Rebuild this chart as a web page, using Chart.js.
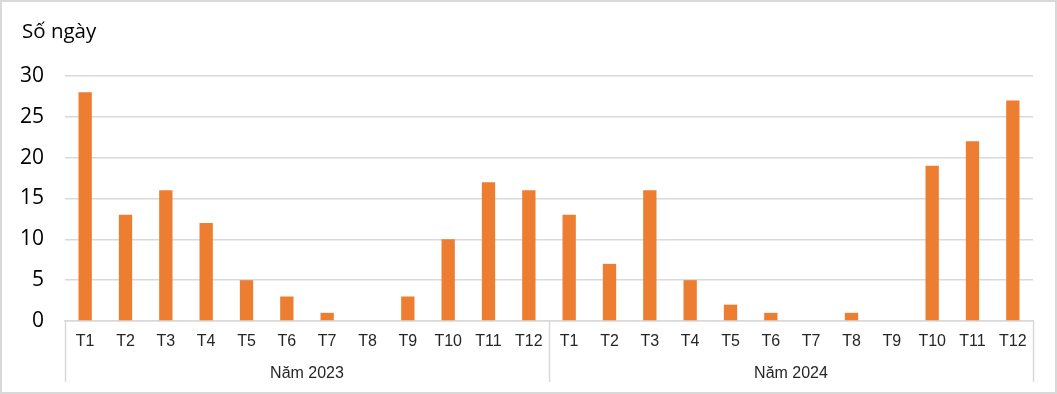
<!DOCTYPE html>
<html>
<head>
<meta charset="utf-8">
<script src="https://cdn.jsdelivr.net/npm/chart.js@4"></script>
<style>
  body { margin: 0; background: #fff; }
  #wrap { position: relative; width: 1057px; height: 394px; }
</style>
</head>
<body>
<div id="wrap"><canvas id="daysChart" width="1057" height="394"></canvas></div>
<script>
// Số ngày theo tháng, 2023 và 2024
const months = ['T1', 'T2', 'T3', 'T4', 'T5', 'T6', 'T7', 'T8', 'T9', 'T10', 'T11', 'T12'];
const years = ['Năm 2023', 'Năm 2024'];
const days2023 = [28, 13, 16, 12, 5, 3, 1, 0, 3, 10, 17, 16];
const days2024 = [13, 7, 16, 5, 2, 1, 0, 1, 0, 19, 22, 27];
const yTicks = [0, 5, 10, 15, 20, 25, 30];

const labels = years.flatMap(() => months);
const values = days2023.concat(days2024);

const gridColor = '#d9d9d9';

// vẽ khung, tiêu đề trục và nhãn nhóm năm
const groupPlugin = {
    id: 'groupPlugin',
    afterDraw(chart) {
        const ctx = chart.ctx;
        const x = chart.scales.x;
        const area = chart.chartArea;
        const step = x.getPixelForValue(1) - x.getPixelForValue(0);

        ctx.save();
        // khung ngoài
        ctx.strokeStyle = gridColor;
        ctx.lineWidth = 2;
        ctx.strokeRect(1, 1, chart.width - 2, chart.height - 2);

        // tiêu đề
        ctx.fillStyle = '#000';
        ctx.font = '20.5px "Open Sans"';
        ctx.textAlign = 'left';
        ctx.textBaseline = 'middle';
        ctx.fillText('Số ngày', 22, 32);

        // đường phân cách nhóm
        ctx.strokeStyle = gridColor;
        ctx.lineWidth = 1.5;
        for (let g = 0; g <= years.length; g++) {
            const px = Math.round(x.getPixelForValue(g * months.length) - step / 2) + 0.5;
            ctx.beginPath();
            ctx.moveTo(px, area.bottom);
            ctx.lineTo(px, area.bottom + 61);
            ctx.stroke();
        }

        // nhãn năm
        ctx.fillStyle = '#262626';
        ctx.font = '16px "Liberation Sans"';
        ctx.textAlign = 'center';
        years.forEach((yr, g) => {
            const a = x.getPixelForValue(g * months.length);
            const b = x.getPixelForValue((g + 1) * months.length - 1);
            ctx.fillText(yr, (a + b) / 2, area.bottom + 53);
        });
        ctx.restore();
    }
};

new Chart(document.getElementById('daysChart'), {
    type: 'bar',
    data: {
        labels: labels,
        datasets: [{
            data: values,
            backgroundColor: '#ED7D31',
            barPercentage: 0.33,
            categoryPercentage: 1
        }]
    },
    options: {
        responsive: false,
        animation: false,
        layout: { padding: { top: 76, left: 20, right: 24, bottom: 0 } },
        plugins: {
            legend: { display: false },
            tooltip: { enabled: false }
        },
        scales: {
            y: {
                min: 0,
                max: 30,
                afterBuildTicks: (s) => { s.ticks = yTicks.map(v => ({ value: v })); },
                afterFit: (s) => { s.width = 45; },
                border: { display: false },
                grid: { color: gridColor, lineWidth: 1.5, drawTicks: false },
                ticks: {
                    padding: 21,
                    color: '#000',
                    font: { family: '"Open Sans"', size: 21 }
                }
            },
            x: {
                afterFit: (s) => { s.height = 73; },
                border: { display: true, color: gridColor, width: 1.5 },
                grid: { display: false, drawTicks: false },
                ticks: {
                    padding: 11,
                    maxRotation: 0,
                    autoSkip: false,
                    color: '#262626',
                    font: { family: '"Liberation Sans"', size: 16 }
                }
            }
        }
    },
    plugins: [groupPlugin]
});
</script>
</body>
</html>
